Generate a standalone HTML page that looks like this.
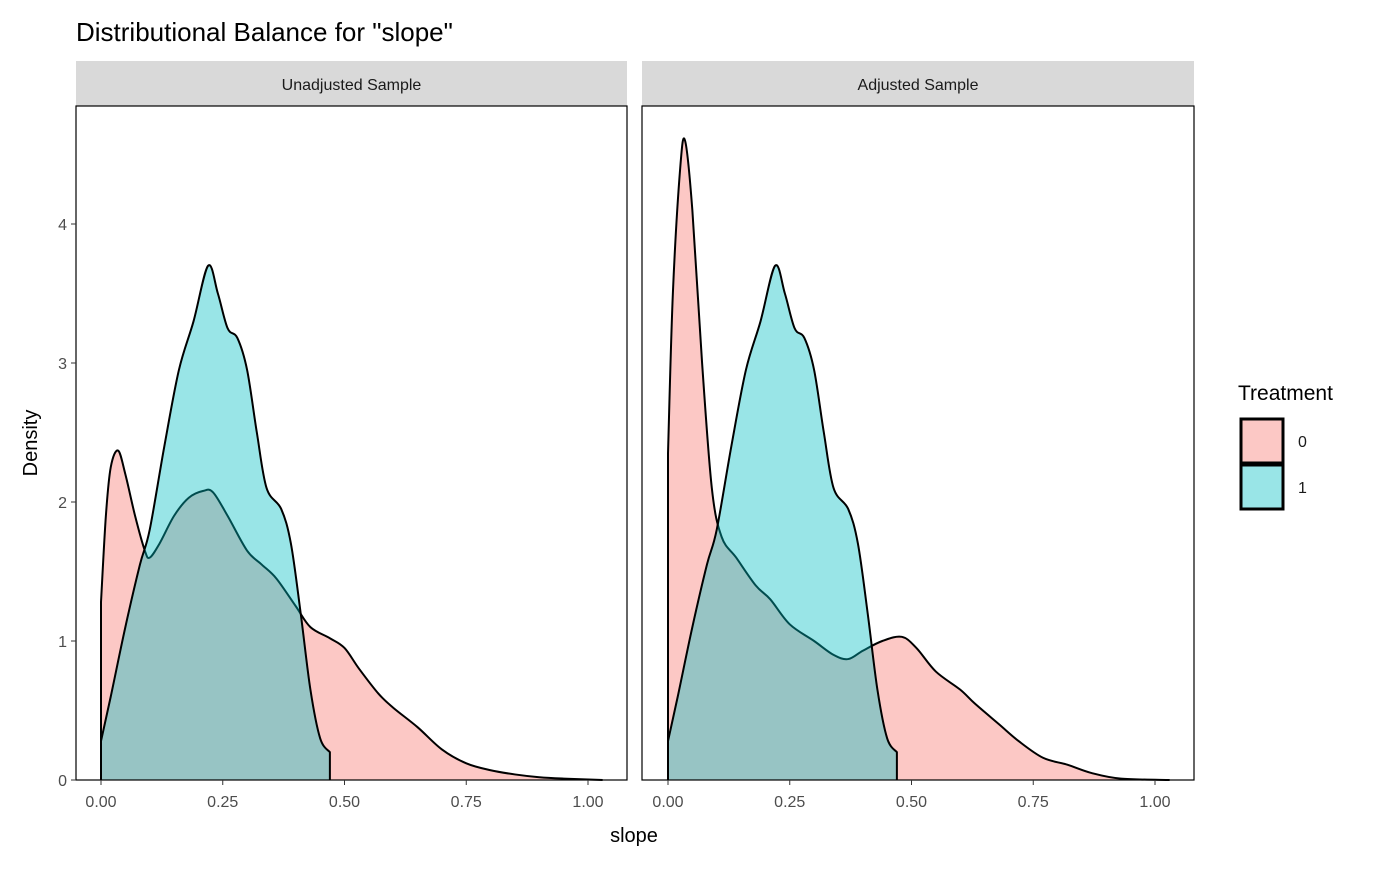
<!DOCTYPE html>
<html><head><meta charset="utf-8"><style>
body{margin:0;background:#fff;font-family:"Liberation Sans",Arial,sans-serif}
svg text{font-family:"Liberation Sans",Arial,sans-serif}
</style></head><body>
<svg id="chart" width="1400" height="865" viewBox="0 0 1400 865" xmlns="http://www.w3.org/2000/svg">
<rect width="1400" height="865" fill="#fff"/>
<text x="76" y="41" font-size="26" fill="#000">Distributional Balance for "slope"</text>
<g id="panels"></g>
<text x="634" y="842" font-size="20" text-anchor="middle">slope</text>
<text transform="translate(37,443) rotate(-90)" font-size="20" text-anchor="middle">Density</text>
<g>
<text x="1238" y="400" font-size="21">Treatment</text>
<rect x="1241" y="419" width="42" height="44" fill="#F8766D" fill-opacity="0.4" stroke="#000" stroke-width="3"/>
<rect x="1241" y="465" width="42" height="44" fill="#00BFC4" fill-opacity="0.4" stroke="#000" stroke-width="3"/>
<text x="1298" y="447" font-size="16" fill="#1a1a1a">0</text>
<text x="1298" y="493" font-size="16" fill="#1a1a1a">1</text>
</g>
</svg>
<script>
const panelTitles = ["Unadjusted Sample","Adjusted Sample"];
const xTicks = [0,0.25,0.5,0.75,1];
const xTickLabels = ["0.00","0.25","0.50","0.75","1.00"];
const yTicks = [0,1,2,3,4];
const unadjX0 = [0,0.01,0.02,0.035,0.05,0.07,0.09,0.1,0.12,0.15,0.18,0.21,0.23,0.26,0.3,0.33,0.36,0.4,0.43,0.47,0.5,0.53,0.57,0.6,0.65,0.7,0.75,0.8,0.85,0.9,0.95,1.03];
const unadjY0 = [1.28,1.9,2.25,2.37,2.2,1.9,1.65,1.6,1.7,1.9,2.03,2.08,2.07,1.9,1.65,1.55,1.45,1.25,1.1,1.02,0.95,0.8,0.62,0.52,0.38,0.22,0.12,0.07,0.04,0.02,0.01,0];
const treatX1 = [0,0.02,0.05,0.08,0.1,0.13,0.16,0.19,0.22,0.24,0.26,0.28,0.3,0.32,0.34,0.37,0.39,0.41,0.43,0.45,0.47];
const treatY1 = [0.28,0.6,1.1,1.55,1.8,2.4,2.95,3.3,3.7,3.5,3.25,3.18,2.95,2.5,2.1,1.95,1.7,1.2,0.65,0.3,0.2];
const adjX0 = [0,0.01,0.025,0.035,0.05,0.07,0.09,0.11,0.14,0.18,0.21,0.25,0.3,0.34,0.37,0.4,0.44,0.48,0.51,0.55,0.6,0.63,0.68,0.72,0.77,0.82,0.87,0.93,1.03];
const adjY0 = [2.35,3.5,4.4,4.6,4.1,3.0,2.1,1.75,1.6,1.4,1.3,1.12,1.0,0.9,0.87,0.93,1.0,1.03,0.95,0.78,0.65,0.55,0.4,0.28,0.16,0.11,0.05,0.01,0];

const NS="http://www.w3.org/2000/svg";
const g=document.getElementById('panels');
const plotTop=106,plotBottom=780,yScale=v=>780-v*139;
const panels=[{l:76,r:627,x0:101,s0:[unadjX0,unadjY0],s1:[treatX1,treatY1]},{l:642,r:1194,x0:668,s0:[adjX0,adjY0],s1:[treatX1,treatY1]}];
function el(t,a,p){const e=document.createElementNS(NS,t);for(const k in a)e.setAttribute(k,a[k]);(p||g).appendChild(e);return e;}
function smooth(pts){let d="M"+pts[0][0]+","+pts[0][1];for(let i=0;i<pts.length-1;i++){const p0=pts[Math.max(0,i-1)],p1=pts[i],p2=pts[i+1],p3=pts[Math.min(pts.length-1,i+2)];const c1=[p1[0]+(p2[0]-p0[0])/6,p1[1]+(p2[1]-p0[1])/6],c2=[p2[0]-(p3[0]-p1[0])/6,p2[1]-(p3[1]-p1[1])/6];d+=" C"+c1[0]+","+c1[1]+" "+c2[0]+","+c2[1]+" "+p2[0]+","+p2[1];}return d;}
panels.forEach((P,pi)=>{
  const xs=v=>P.x0+v*487;
  const strip=el('rect',{x:P.l,y:61,width:P.r-P.l,height:45,fill:'#d9d9d9'});
  
  
  const st=el('text',{x:(P.l+P.r)/2,y:90,'font-size':16,'text-anchor':'middle',fill:'#1a1a1a'});
  st.textContent=panelTitles[pi];
  
  
  [[P.s0,'#F8766D'],[P.s1,'#00BFC4']].forEach(([s,c],si)=>{
    const pts=s[0].map((x,i)=>[xs(x),yScale(s[1][i])]);
    const line=smooth(pts);
    const last=pts[pts.length-1];
    const area=el('path',{d:line+" L"+last[0]+","+plotBottom+" L"+pts[0][0]+","+plotBottom+" Z",fill:c,'fill-opacity':0.4,stroke:'none'});
    
    
    const ln=el('path',{d:"M"+pts[0][0]+","+plotBottom+" L"+line.slice(1)+" L"+last[0]+","+plotBottom,fill:'none',stroke:'#000','stroke-width':2});
    
    
  });
  const frame=el('rect',{x:P.l,y:plotTop,width:P.r-P.l,height:plotBottom-plotTop,fill:'none',stroke:'#000','stroke-width':1.2});
  
  
  xTicks.forEach((t,i)=>{
    el('line',{x1:xs(t),x2:xs(t),y1:plotBottom,y2:plotBottom+5,stroke:'#333'});
    const tx=el('text',{x:xs(t),y:807,'font-size':16,'text-anchor':'middle',fill:'#4d4d4d'});
    tx.textContent=xTickLabels[i];
    
    
  });
  if(pi===0){yTicks.forEach(t=>{
    el('line',{x1:P.l-5,x2:P.l,y1:yScale(t),y2:yScale(t),stroke:'#333'});
    const tx=el('text',{x:P.l-9,y:yScale(t)+6,'font-size':16,'text-anchor':'end',fill:'#4d4d4d'});
    tx.textContent=t;
    
    
  });}
});
</script>
</body></html>
